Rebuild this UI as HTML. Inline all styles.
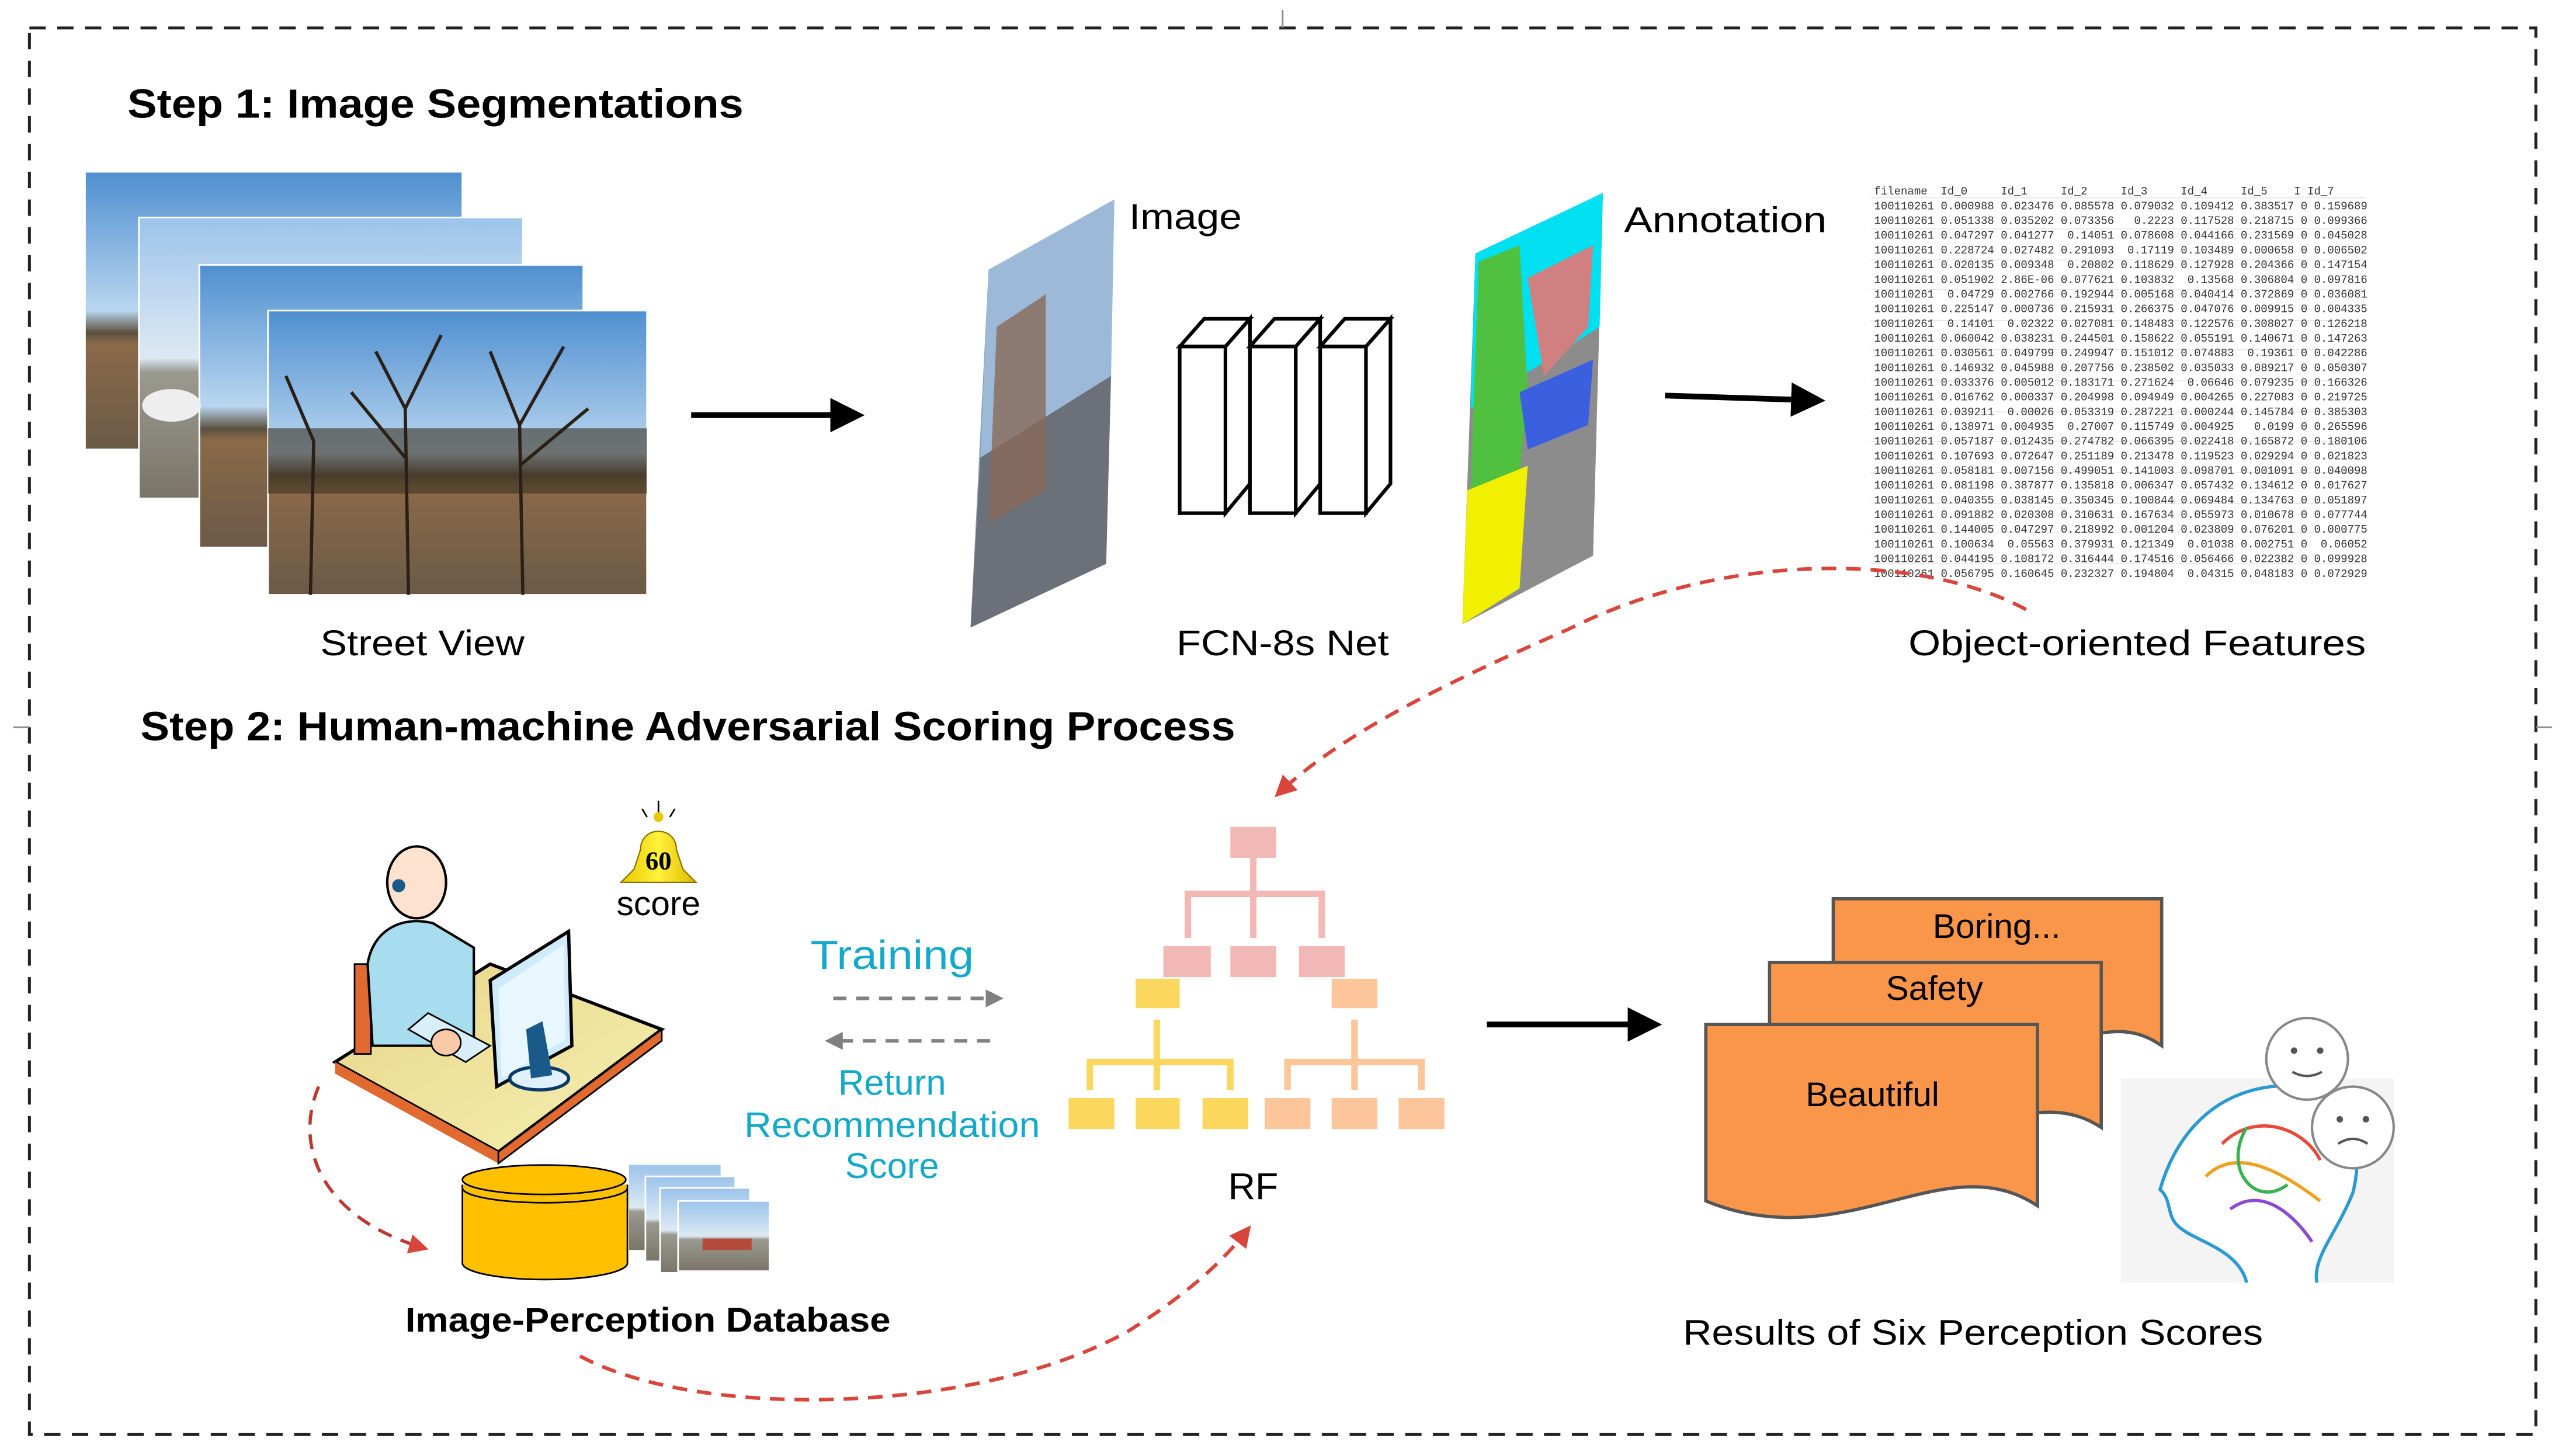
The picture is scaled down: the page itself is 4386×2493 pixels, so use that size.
<!DOCTYPE html>
<html><head><meta charset="utf-8"><style>
html,body{margin:0;padding:0;background:#fff}
svg{display:block}
text{font-family:"Liberation Sans",sans-serif}
.mono text{font-family:"Liberation Mono",monospace;white-space:pre}
</style></head><body>
<svg width="4386" height="2493" viewBox="0 0 1568 891" xmlns="http://www.w3.org/2000/svg">
<defs>
<linearGradient id="sky" x1="0" y1="0" x2="0" y2="1"><stop offset="0" stop-color="#4f8fd0"/><stop offset="0.5" stop-color="#b9d6ef"/><stop offset="0.58" stop-color="#5a5040"/><stop offset="0.62" stop-color="#8a6a48"/><stop offset="1" stop-color="#6b5a48"/></linearGradient>
<linearGradient id="sky2" x1="0" y1="0" x2="0" y2="1"><stop offset="0" stop-color="#9cc4ea"/><stop offset="0.5" stop-color="#dce9f3"/><stop offset="0.55" stop-color="#9a9a90"/><stop offset="1" stop-color="#7a7468"/></linearGradient>
<linearGradient id="bell" x1="0" y1="0" x2="1" y2="0"><stop offset="0" stop-color="#e8c800"/><stop offset="0.5" stop-color="#fff23a"/><stop offset="1" stop-color="#e0b800"/></linearGradient>
<linearGradient id="desk" x1="0" y1="0" x2="1" y2="1"><stop offset="0" stop-color="#e8d58a"/><stop offset="1" stop-color="#f4f0b0"/></linearGradient>
<marker id="ab" viewBox="0 0 10 10" refX="8" refY="5" markerWidth="6" markerHeight="6" orient="auto"><path d="M0,0L10,5L0,10z" fill="#000"/></marker>
<marker id="ag" viewBox="0 0 10 10" refX="8" refY="5" markerWidth="5" markerHeight="5" orient="auto"><path d="M0,0L10,5L0,10z" fill="#808080"/></marker>
<marker id="ar" viewBox="0 0 10 10" refX="8" refY="5" markerWidth="6" markerHeight="6" orient="auto"><path d="M0,0L10,5L0,10z" fill="#d9453a"/></marker>
</defs>
<rect x="18" y="17" width="1534" height="861" fill="none" stroke="#222" stroke-width="1.8" stroke-dasharray="10,7"/>
<line x1="785" y1="6" x2="785" y2="17" stroke="#888" stroke-width="1"/>
<line x1="8" y1="445" x2="18" y2="445" stroke="#888" stroke-width="1"/>
<line x1="1552" y1="445" x2="1562" y2="445" stroke="#888" stroke-width="1"/>

<text x="78" y="72" font-size="25" font-weight="bold" textLength="377" lengthAdjust="spacingAndGlyphs">Step 1: Image Segmentations</text>

<!-- street view stack -->
<g stroke="#fff" stroke-width="1">
<rect x="52" y="105" width="231" height="170" fill="url(#sky)"/>
<rect x="85" y="133" width="235" height="172" fill="url(#sky2)"/>
<rect x="122" y="162" width="235" height="173" fill="url(#sky)"/>
<rect x="164" y="190" width="232" height="174" fill="url(#sky)"/>
</g>
<rect x="164" y="262" width="232" height="40" fill="#3a3020" opacity="0.6"/>
<g stroke="#2a2018" stroke-width="2" fill="none">
<path d="M250,364 L248,250 L230,215 M248,250 L270,205 M248,280 L215,240"/>
<path d="M320,364 L318,260 L300,215 M318,260 L345,212 M318,285 L360,250"/>
<path d="M190,364 L192,270 L175,230"/>
</g>
<ellipse cx="105" cy="248" rx="18" ry="10" fill="#eee"/>

<text x="196" y="401" font-size="22" textLength="125" lengthAdjust="spacingAndGlyphs">Street View</text>
<line x1="423" y1="254" x2="525" y2="254" stroke="#000" stroke-width="3.5" marker-end="url(#ab)"/>

<!-- image parallelogram -->
<polygon points="605,165 682,122 677,345 594,384" fill="#8aa0b8"/>
<polygon points="605,165 682,122 680,230 600,280" fill="#9db9d8"/>
<polygon points="600,280 680,230 677,345 594,384" fill="#6c7078"/>
<polygon points="610,200 640,180 640,300 605,320" fill="#8a6a5a" opacity="0.8"/>
<text x="691" y="140" font-size="22" textLength="69" lengthAdjust="spacingAndGlyphs">Image</text>

<!-- FCN blocks -->
<g fill="#fff" stroke="#000" stroke-width="2.2">
<polygon points="722,212 737,195 765,195 750,212"/><polygon points="750,212 765,195 765,296 750,314"/><rect x="722" y="212" width="28" height="102"/>
<polygon points="765,212 780,195 808,195 793,212"/><polygon points="793,212 808,195 808,296 793,314"/><rect x="765" y="212" width="28" height="102"/>
<polygon points="808,212 823,195 851,195 836,212"/><polygon points="836,212 851,195 851,296 836,314"/><rect x="808" y="212" width="28" height="102"/>
</g>
<text x="720" y="401" font-size="22" textLength="130" lengthAdjust="spacingAndGlyphs">FCN-8s Net</text>

<!-- annotation -->
<polygon points="903,155 981,118 975,340 895,382" fill="#8c8c8c"/>
<polygon points="903,155 981,118 979,200 900,250" fill="#00e0f0"/>
<polygon points="905,160 930,150 935,240 930,290 900,300" fill="#50c040"/>
<polygon points="935,170 975,150 972,200 945,230" fill="#d08080"/>
<polygon points="898,300 935,285 930,360 895,382" fill="#f0f000"/>
<polygon points="930,240 975,220 972,260 935,275" fill="#3a60e0"/>
<text x="994" y="142" font-size="22" textLength="124" lengthAdjust="spacingAndGlyphs">Annotation</text>
<line x1="1019" y1="242" x2="1113" y2="245" stroke="#000" stroke-width="3.5" marker-end="url(#ab)"/>

<!-- table -->
<rect x="1145" y="112" width="303" height="244" fill="#fff"/>
<g stroke="#e3e3e3" stroke-width="0.5">
<line x1="1145" y1="121" x2="1448" y2="121"/><line x1="1145" y1="140" x2="1448" y2="140"/><line x1="1145" y1="159" x2="1448" y2="159"/><line x1="1145" y1="177" x2="1448" y2="177"/><line x1="1145" y1="196" x2="1448" y2="196"/><line x1="1145" y1="214" x2="1448" y2="214"/><line x1="1145" y1="233" x2="1448" y2="233"/><line x1="1145" y1="252" x2="1448" y2="252"/><line x1="1145" y1="270" x2="1448" y2="270"/><line x1="1145" y1="289" x2="1448" y2="289"/><line x1="1145" y1="308" x2="1448" y2="308"/><line x1="1145" y1="326" x2="1448" y2="326"/><line x1="1145" y1="345" x2="1448" y2="345"/>
</g>
<g class="mono" font-size="6.8" fill="#333">
<text x="1147" y="119" xml:space="preserve">filename  Id_0     Id_1     Id_2     Id_3     Id_4     Id_5    I Id_7</text>
<text x="1147" y="128" xml:space="preserve">100110261 0.000988 0.023476 0.085578 0.079032 0.109412 0.383517 0 0.159689</text>
<text x="1147" y="137" xml:space="preserve">100110261 0.051338 0.035202 0.073356   0.2223 0.117528 0.218715 0 0.099366</text>
<text x="1147" y="146" xml:space="preserve">100110261 0.047297 0.041277  0.14051 0.078608 0.044166 0.231569 0 0.045028</text>
<text x="1147" y="155" xml:space="preserve">100110261 0.228724 0.027482 0.291093  0.17119 0.103489 0.000658 0 0.006502</text>
<text x="1147" y="164" xml:space="preserve">100110261 0.020135 0.009348  0.20802 0.118629 0.127928 0.204366 0 0.147154</text>
<text x="1147" y="173" xml:space="preserve">100110261 0.051902 2.86E-06 0.077621 0.103832  0.13568 0.306804 0 0.097816</text>
<text x="1147" y="182" xml:space="preserve">100110261  0.04729 0.002766 0.192944 0.005168 0.040414 0.372869 0 0.036081</text>
<text x="1147" y="191" xml:space="preserve">100110261 0.225147 0.000736 0.215931 0.266375 0.047076 0.009915 0 0.004335</text>
<text x="1147" y="200" xml:space="preserve">100110261  0.14101  0.02322 0.027081 0.148483 0.122576 0.308027 0 0.126218</text>
<text x="1147" y="209" xml:space="preserve">100110261 0.060042 0.038231 0.244501 0.158622 0.055191 0.140671 0 0.147263</text>
<text x="1147" y="218" xml:space="preserve">100110261 0.030561 0.049799 0.249947 0.151012 0.074883  0.19361 0 0.042286</text>
<text x="1147" y="227" xml:space="preserve">100110261 0.146932 0.045988 0.207756 0.238502 0.035033 0.089217 0 0.050307</text>
<text x="1147" y="236" xml:space="preserve">100110261 0.033376 0.005012 0.183171 0.271624  0.06646 0.079235 0 0.166326</text>
<text x="1147" y="245" xml:space="preserve">100110261 0.016762 0.000337 0.204998 0.094949 0.004265 0.227083 0 0.219725</text>
<text x="1147" y="254" xml:space="preserve">100110261 0.039211  0.00026 0.053319 0.287221 0.000244 0.145784 0 0.385303</text>
<text x="1147" y="263" xml:space="preserve">100110261 0.138971 0.004935  0.27007 0.115749 0.004925   0.0199 0 0.265596</text>
<text x="1147" y="272" xml:space="preserve">100110261 0.057187 0.012435 0.274782 0.066395 0.022418 0.165872 0 0.180106</text>
<text x="1147" y="281" xml:space="preserve">100110261 0.107693 0.072647 0.251189 0.213478 0.119523 0.029294 0 0.021823</text>
<text x="1147" y="290" xml:space="preserve">100110261 0.058181 0.007156 0.499051 0.141003 0.098701 0.001091 0 0.040098</text>
<text x="1147" y="299" xml:space="preserve">100110261 0.081198 0.387877 0.135818 0.006347 0.057432 0.134612 0 0.017627</text>
<text x="1147" y="308" xml:space="preserve">100110261 0.040355 0.038145 0.350345 0.100844 0.069484 0.134763 0 0.051897</text>
<text x="1147" y="317" xml:space="preserve">100110261 0.091882 0.020308 0.310631 0.167634 0.055973 0.010678 0 0.077744</text>
<text x="1147" y="326" xml:space="preserve">100110261 0.144005 0.047297 0.218992 0.001204 0.023809 0.076201 0 0.000775</text>
<text x="1147" y="335" xml:space="preserve">100110261 0.100634  0.05563 0.379931 0.121349  0.01038 0.002751 0  0.06052</text>
<text x="1147" y="344" xml:space="preserve">100110261 0.044195 0.108172 0.316444 0.174516 0.056466 0.022382 0 0.099928</text>
<text x="1147" y="353" xml:space="preserve">100110261 0.056795 0.160645 0.232327 0.194804  0.04315 0.048183 0 0.072929</text>
</g>
<text x="1168" y="401" font-size="22" textLength="280" lengthAdjust="spacingAndGlyphs">Object-oriented Features</text>

<text x="86" y="453" font-size="25" font-weight="bold" textLength="670" lengthAdjust="spacingAndGlyphs">Step 2: Human-machine Adversarial Scoring Process</text>

<!-- red curve top -->
<path d="M1240,373 C1180,340 1060,335 960,385 C880,420 820,450 782,486" fill="none" stroke="#d9453a" stroke-width="2.2" stroke-dasharray="9,6" marker-end="url(#ar)"/>

<!-- person -->
<polygon points="205,650 300,590 405,630 305,705" fill="url(#desk)" stroke="#000" stroke-width="2"/>
<polygon points="205,650 305,705 305,712 205,657" fill="#e06a30"/>
<polygon points="305,705 405,630 405,637 305,712" fill="#e06a30" stroke="#000" stroke-width="1"/>
<rect x="217" y="590" width="10" height="55" fill="#e06a30" stroke="#000" stroke-width="1"/>
<path d="M228,640 L225,590 C228,570 245,560 265,565 L290,580 L290,640 Z" fill="#a8dcef" stroke="#000" stroke-width="1.5"/>
<ellipse cx="255" cy="540" rx="18" ry="22" fill="#fde3cf" stroke="#000" stroke-width="1.5"/>
<circle cx="244" cy="542" r="4" fill="#1a5a8a"/>
<path d="M262,620 L300,640 L285,650 L250,630 Z" fill="#d8eef8" stroke="#000" stroke-width="1"/>
<ellipse cx="273" cy="638" rx="9" ry="8" fill="#f9c9a8" stroke="#000" stroke-width="1"/>
<polygon points="300,600 348,570 350,640 304,665" fill="#cfeaf8" stroke="#000" stroke-width="2"/>
<polygon points="305,605 345,578 346,636 307,660" fill="#e8f6fd"/>
<ellipse cx="330" cy="660" rx="18" ry="7" fill="#dff1fa" stroke="#0a3a6a" stroke-width="2"/>
<polygon points="322,630 332,625 338,658 325,660" fill="#1a5a8a"/>

<!-- bell -->
<path d="M403,490 L403,497 M393,495 L396,500 M413,495 L410,500" stroke="#000" stroke-width="1"/>
<circle cx="403" cy="500" r="3" fill="#e8c800"/>
<path d="M392,520 C392,505 414,505 414,520 L418,532 L426,540 L380,540 L388,532 Z" fill="url(#bell)" stroke="#8a7000" stroke-width="0.8"/>
<text x="403" y="532" font-size="16" font-weight="bold" text-anchor="middle" style="font-family:'Liberation Serif',serif">60</text>
<text x="403" y="560" font-size="21" text-anchor="middle">score</text>

<!-- training -->
<text x="496" y="593" font-size="25" fill="#14a9c8" textLength="100" lengthAdjust="spacingAndGlyphs">Training</text>
<line x1="510" y1="611" x2="612" y2="611" stroke="#808080" stroke-width="2.2" stroke-dasharray="8,6" marker-end="url(#ag)"/>
<line x1="606" y1="637" x2="507" y2="637" stroke="#808080" stroke-width="2.2" stroke-dasharray="8,6" marker-end="url(#ag)"/>
<g font-size="22" fill="#14a9c8" text-anchor="middle">
<text x="546" y="670">Return</text><text x="546" y="696" textLength="181" lengthAdjust="spacingAndGlyphs">Recommendation</text><text x="546" y="721">Score</text>
</g>

<!-- RF tree -->
<g fill="#f2b8b5">
<rect x="753" y="506" width="28" height="19"/>
<rect x="712" y="579" width="29" height="19"/><rect x="753" y="579" width="28" height="19"/><rect x="795" y="579" width="28" height="19"/>
</g>
<g stroke="#f2b8b5" stroke-width="4" fill="none"><path d="M767,525 V574 M727,574 V547 H809 V574"/></g>
<rect x="695" y="599" width="27" height="18" fill="#fcd75e"/>
<rect x="815" y="599" width="28" height="18" fill="#fcc59a"/>
<g stroke="#fcd75e" stroke-width="4" fill="none"><path d="M708,624 V667 M667,667 V650 H753 V667"/></g>
<g stroke="#fcc59a" stroke-width="4" fill="none"><path d="M829,624 V667 M788,667 V650 H870 V667"/></g>
<g fill="#fcd75e"><rect x="654" y="672" width="28" height="19"/><rect x="695" y="672" width="27" height="19"/><rect x="736" y="672" width="28" height="19"/></g>
<g fill="#fcc59a"><rect x="774" y="672" width="28" height="19"/><rect x="815" y="672" width="28" height="19"/><rect x="856" y="672" width="28" height="19"/></g>
<text x="767" y="734" font-size="23" text-anchor="middle">RF</text>

<!-- red curves bottom -->
<path d="M195,665 C180,700 195,745 260,764" fill="none" stroke="#b83a30" stroke-width="2" stroke-dasharray="9,6" marker-end="url(#ar)"/>
<path d="M355,830 C430,870 600,865 690,815 C730,790 750,770 764,752" fill="none" stroke="#d9453a" stroke-width="2.2" stroke-dasharray="9,6" marker-end="url(#ar)"/>

<!-- database -->
<path d="M283,725 V773 A50,10 0 0 0 384,773 V725" fill="#ffc000" stroke="#000" stroke-width="1"/>
<ellipse cx="333" cy="722" rx="50" ry="9" fill="#ffc000" stroke="#000" stroke-width="1"/>
<path d="M283,727 A50,9 0 0 0 384,727" fill="none" stroke="#000" stroke-width="1"/>
<rect x="385" y="713" width="56" height="52" fill="url(#sky2)"/>
<rect x="395" y="720" width="55" height="52" fill="url(#sky2)" stroke="#fff"/>
<rect x="404" y="727" width="55" height="52" fill="url(#sky2)" stroke="#fff"/>
<rect x="415" y="735" width="56" height="43" fill="url(#sky2)" stroke="#fff"/>
<rect x="430" y="758" width="30" height="7" fill="#b44a3a"/>
<text x="248" y="815" font-size="21" font-weight="bold" textLength="297" lengthAdjust="spacingAndGlyphs">Image-Perception Database</text>

<line x1="910" y1="627" x2="1013" y2="627" stroke="#000" stroke-width="3.5" marker-end="url(#ab)"/>

<!-- documents -->
<g stroke="#555" stroke-width="2" fill="#f9964a">
<path d="M1122,550 H1323 V640 C1280,610 1250,670 1122,640 Z"/>
<path d="M1083,589 H1286 V690 C1240,660 1200,715 1083,680 Z"/>
<path d="M1044,627 H1247 V738 C1190,700 1130,770 1044,735 Z"/>
</g>
<g font-size="21" text-anchor="middle">
<text x="1222" y="574">Boring...</text>
<text x="1184" y="612">Safety</text>
<text x="1146" y="677">Beautiful</text>
</g>

<!-- head -->
<rect x="1298" y="660" width="167" height="125" fill="#f4f4f4"/>
<path d="M1375,785 C1370,765 1345,760 1335,752 C1325,745 1330,735 1322,728 C1330,700 1350,670 1390,665 C1430,662 1450,690 1440,730 C1430,755 1415,770 1418,785" fill="#fff" stroke="#2a9ad0" stroke-width="2"/>
<g fill="none" stroke-width="2">
<path d="M1360,700 C1380,680 1410,690 1420,710" stroke="#e84a3a"/>
<path d="M1350,720 C1370,700 1400,720 1420,735" stroke="#f0a020"/>
<path d="M1365,740 C1385,725 1405,745 1415,760" stroke="#8a4ad0"/>
<path d="M1375,690 C1360,715 1380,740 1400,725" stroke="#3ab050"/>
</g>
<circle cx="1412" cy="648" r="25" fill="#fff" stroke="#888" stroke-width="1.5"/>
<circle cx="1404" cy="643" r="2" fill="#555"/><circle cx="1420" cy="643" r="2" fill="#555"/>
<path d="M1403,656 Q1412,661 1421,656" fill="none" stroke="#555" stroke-width="1.5"/>
<circle cx="1440" cy="690" r="25" fill="#fff" stroke="#888" stroke-width="1.5"/>
<circle cx="1432" cy="685" r="2" fill="#555"/><circle cx="1448" cy="685" r="2" fill="#555"/>
<path d="M1431,700 Q1440,694 1449,700" fill="none" stroke="#555" stroke-width="1.5"/>
<text x="1030" y="823" font-size="22" textLength="355" lengthAdjust="spacingAndGlyphs">Results of Six Perception Scores</text>
</svg>
</body></html>
